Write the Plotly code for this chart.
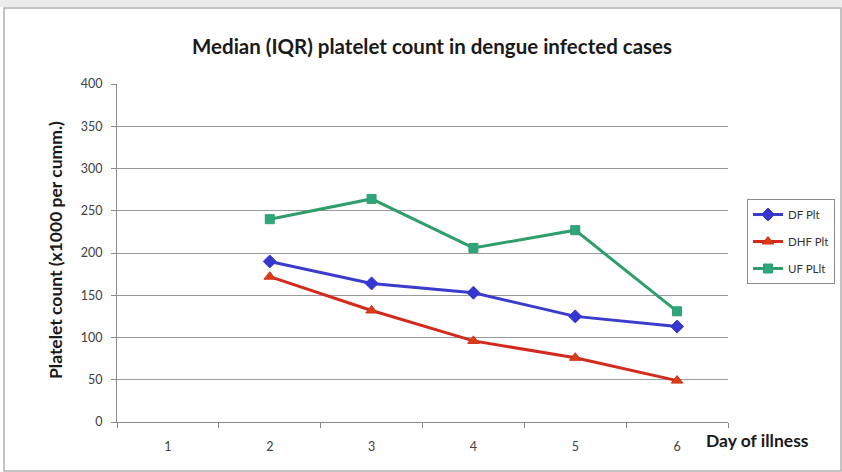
import plotly.graph_objects as go

# Day of illness (categories) and median platelet counts (x1000 per cumm.)
days = ["1", "2", "3", "4", "5", "6"]
df_plt = [None, 190, 164, 153, 125, 113]
dhf_plt = [None, 172, 132, 96, 76, 49]
uf_plt = [None, 240, 264, 206, 227, 131]

y_ticks = [0, 50, 100, 150, 200, 250, 300, 350, 400]

W, H = 842, 472
FONT = "Lato"

def px(x):
    return x / W

def py(y):
    return 1 - y / H

fig = go.Figure()

series = [
    ("DF Plt", df_plt, "#3b3bcc", "diamond", "#3535d0", 10),
    ("DHF Plt", dhf_plt, "#d42a1e", "triangle-up", "#d8400f", 10),
    ("UF PLlt", uf_plt, "#2f9e6c", "square", "#2ea67c", 9),
]
for name, vals, lc, sym, mc, ms in series:
    fig.add_trace(go.Scatter(
        x=days, y=vals, name=name, mode="lines+markers",
        line=dict(color=lc, width=3),
        marker=dict(symbol=sym, size=ms, color=mc, line=dict(color=lc, width=1)),
        connectgaps=False, legendgroup=name,
    ))

fig.update_layout(
    width=W, height=H,
    margin=dict(l=0, r=0, t=0, b=0, autoexpand=False),
    paper_bgcolor="white", plot_bgcolor="white",
    font=dict(family=FONT, color="#404040"),
    showlegend=True,
    legend=dict(
        x=px(747), y=py(199), xanchor="left", yanchor="top",
        bordercolor="#8c8c8c", borderwidth=1, bgcolor="white",
        font=dict(family=FONT, size=11.5, color="#333333"),
        tracegroupgap=8, itemwidth=30,
    ),
    xaxis=dict(
        domain=[px(117), px(728)], automargin=False,
        type="category", categoryorder="array", categoryarray=days,
        range=[-0.5, 5.5],
        showgrid=False, zeroline=False,
        showline=True, linecolor="#8a8a8a", linewidth=1,
        ticks="outside", tickson="boundaries", ticklen=5, tickcolor="#8a8a8a",
        tickfont=dict(family=FONT, size=12.5, color="#404040"),
        ticklabelstandoff=13,
    ),
    yaxis=dict(
        domain=[py(422), py(84)], automargin=False,
        range=[0, 400], tickvals=y_ticks,
        showgrid=True, gridcolor="#9a9a9a", gridwidth=1,
        zeroline=False,
        showline=True, linecolor="#8a8a8a", linewidth=1,
        ticks="outside", ticklen=5, tickcolor="#8a8a8a",
        tickfont=dict(family=FONT, size=12.5, color="#404040"),
        ticklabelstandoff=6,
    ),
)

# chart frame and top strip
fig.add_shape(type="rect", xref="paper", yref="paper",
              x0=0, x1=1, y0=py(7), y1=1,
              fillcolor="#ececec", line=dict(width=0), layer="below")
fig.add_shape(type="rect", xref="paper", yref="paper",
              x0=px(4), x1=px(841), y0=py(471), y1=py(8),
              fillcolor="rgba(0,0,0,0)", line=dict(color="#b0b0b0", width=1.5))

# title
fig.add_annotation(
    text="<b>Median (IQR) platelet count in dengue infected cases</b>",
    xref="paper", yref="paper", x=px(432), y=py(46),
    xanchor="center", yanchor="middle", showarrow=False,
    font=dict(family=FONT, size=20.5, color="#1a1a1a"),
)

# y-axis title
fig.add_annotation(
    text="<b>Platelet count (x1000 per cumm.)</b>",
    xref="paper", yref="paper", x=px(55), y=py(250),
    xanchor="center", yanchor="middle", textangle=-90, showarrow=False,
    font=dict(family=FONT, size=17.5, color="#1a1a1a"),
)

# x-axis title
fig.add_annotation(
    text="<b>Day of illness</b>",
    xref="paper", yref="paper", x=px(704), y=py(440),
    xanchor="left", yanchor="middle", showarrow=False,
    font=dict(family=FONT, size=17.5, color="#1a1a1a"),
)

fig.write_html("out.html")
